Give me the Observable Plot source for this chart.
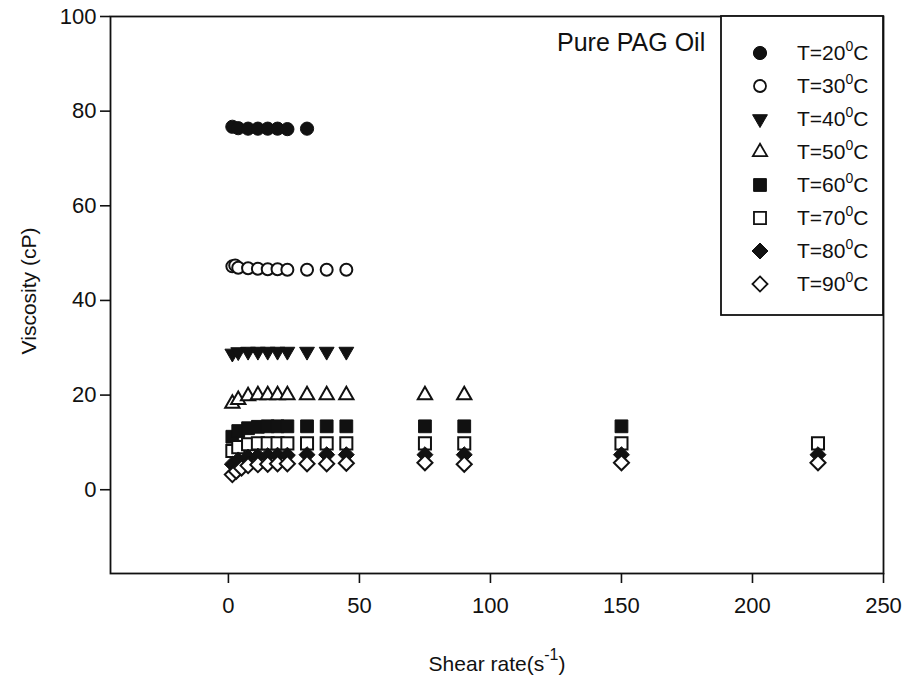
<!DOCTYPE html>
<html>
<head>
<meta charset="utf-8">
<script src="https://cdn.jsdelivr.net/npm/d3@7"></script>
<script src="https://cdn.jsdelivr.net/npm/@observablehq/plot@0.6"></script>
<style>
  body { margin: 0; background: #fff; }
  #chart { position: relative; width: 903px; height: 679px; }
  #chart svg { position: absolute; left: 0; top: 0; }
</style>
</head>
<body>
<div id="chart"></div>
<script>
// Viscosity of pure PAG oil vs. shear rate, one series per temperature
const temperatures = [20, 30, 40, 50, 60, 70, 80, 90];

const shear20 = [1.5, 3.75, 7.5, 11.25, 15, 18.75, 22.5, 30];
const visc20  = [76.7, 76.4, 76.3, 76.3, 76.3, 76.3, 76.2, 76.3];

const shear30 = [1.5, 2.6, 3.75, 7.5, 11.25, 15, 18.75, 22.5, 30, 37.5, 45];
const visc30  = [47.2, 47.4, 46.9, 46.8, 46.7, 46.6, 46.6, 46.5, 46.5, 46.5, 46.5];

const shear40 = [1.5, 3.75, 7.5, 11.25, 15, 18.75, 22.5, 30, 37.5, 45];
const visc40  = [28.8, 29.1, 29.2, 29.2, 29.2, 29.2, 29.2, 29.2, 29.2, 29.2];

const shear50 = [1.5, 3.75, 7.5, 11.25, 15, 18.75, 22.5, 30, 37.5, 45, 75, 90];
const visc50  = [18.2, 19.0, 19.8, 20.0, 20.0, 20.0, 20.0, 20.0, 20.0, 20.0, 20.0, 20.0];

const shear60 = [1.5, 3.75, 7.5, 11.25, 15, 18.75, 22.5, 30, 37.5, 45, 75, 90, 150];
const visc60  = [11.2, 12.4, 13.0, 13.3, 13.4, 13.4, 13.4, 13.4, 13.4, 13.4, 13.4, 13.4, 13.4];

const shear70 = [1.5, 3.75, 7.5, 11.25, 15, 18.75, 22.5, 30, 37.5, 45, 75, 90, 150, 225];
const visc70  = [8.2, 9.0, 9.6, 9.8, 9.8, 9.8, 9.8, 9.8, 9.8, 9.8, 9.8, 9.8, 9.8, 9.8];

const shear80 = [1.5, 3.75, 7.5, 11.25, 15, 18.75, 22.5, 30, 37.5, 45, 75, 90, 150, 225];
const visc80  = [5.4, 6.3, 6.9, 7.1, 7.2, 7.3, 7.3, 7.4, 7.4, 7.4, 7.4, 7.4, 7.4, 7.4];

const shear90 = [1.5, 3.0, 5.0, 7.5, 11.25, 15, 18.75, 22.5, 30, 37.5, 45, 75, 90, 150, 225];
const visc90  = [3.2, 3.9, 4.6, 5.1, 5.3, 5.4, 5.5, 5.5, 5.5, 5.5, 5.6, 5.7, 5.4, 5.7, 5.7];

const xTicks = [0, 50, 100, 150, 200, 250];
const yTicks = [0, 20, 40, 60, 80, 100];
const legendLabels = ["T=20", "T=30", "T=40", "T=50", "T=60", "T=70", "T=80", "T=90"];

const shearBySeries = [shear20, shear30, shear40, shear50, shear60, shear70, shear80, shear90];
const viscBySeries  = [visc20, visc30, visc40, visc50, visc60, visc70, visc80, visc90];

// Long table: one row per measurement
const rows = temperatures.flatMap((T, i) =>
  shearBySeries[i].map((s, j) => ({T, shear: s, visc: viscBySeries[i][j]}))
);

// Marker look per temperature (SigmaPlot-style symbol cycle)
const markerStyle = [
  {symbol: d3.symbolCircle,   filled: true,  r: 6.6, rotate: 0},
  {symbol: d3.symbolCircle,   filled: false, r: 6.0, rotate: 0},
  {symbol: d3.symbolTriangle, filled: true,  r: 5.5, rotate: 180},
  {symbol: d3.symbolTriangle, filled: false, r: 5.3, rotate: 0},
  {symbol: d3.symbolSquare,   filled: true,  r: 7.2, rotate: 0},
  {symbol: d3.symbolSquare,   filled: false, r: 6.8, rotate: 0},
  {symbol: d3.symbolDiamond2, filled: true,  r: 7.2, rotate: 0},
  {symbol: d3.symbolDiamond2, filled: false, r: 6.8, rotate: 0}
];

const font = "'Liberation Sans', Arial, sans-serif";
const ink = "#111";

const dotMarks = temperatures.map((T, i) => {
  const m = markerStyle[i];
  return Plot.dot(rows.filter(d => d.T === T), {
    x: "shear",
    y: "visc",
    symbol: m.symbol,
    r: m.r,
    rotate: m.rotate,
    fill: m.filled ? ink : "#fff",
    stroke: ink,
    strokeWidth: m.filled ? 1 : 2
  });
});

const chart = Plot.plot({
  width: 903,
  height: 679,
  marginLeft: 110,
  marginRight: 20,
  marginTop: 16,
  marginBottom: 106,
  style: {fontFamily: font, fontSize: "22px", color: ink, background: "#fff"},
  x: {domain: [-45, 250], label: null},
  y: {domain: [-17.7, 100], label: null},
  marks: [
    Plot.axisX({ticks: xTicks, tickSize: 10, tickPadding: 14, strokeWidth: 1.6, label: null}),
    Plot.axisY({ticks: yTicks, tickSize: 10, tickPadding: 4, strokeWidth: 1.6, label: null}),
    ...dotMarks,
    Plot.frame({stroke: ink, strokeWidth: 1.8})
  ]
});

const host = document.getElementById("chart");
host.appendChild(chart);

// Overlay: plot title, axis titles with superscripts, and the legend box
const ov = d3.select(host).append("svg")
  .attr("width", 903).attr("height", 679)
  .style("pointer-events", "none")
  .attr("font-family", font)
  .attr("fill", ink);

ov.append("text")
  .attr("x", 557).attr("y", 51)
  .attr("font-size", 25)
  .text("Pure PAG Oil");

const xt = ov.append("text")
  .attr("x", 497).attr("y", 671)
  .attr("text-anchor", "middle")
  .attr("font-size", 21);
xt.append("tspan").text("Shear rate(s");
xt.append("tspan").attr("dy", -11).attr("font-size", 16).text("-1");
xt.append("tspan").attr("dy", 11).text(")");

ov.append("text")
  .attr("transform", "translate(29,291) rotate(-90)")
  .attr("text-anchor", "middle")
  .attr("dy", "0.35em")
  .attr("font-size", 21)
  .text("Viscosity (cP)");

const lg = ov.append("g");
lg.append("rect")
  .attr("x", 721).attr("y", 16)
  .attr("width", 162).attr("height", 299)
  .attr("fill", "#fff")
  .attr("stroke", ink)
  .attr("stroke-width", 1.8);

legendLabels.forEach((label, i) => {
  const m = markerStyle[i];
  const cy = 53 + i * 33;
  lg.append("path")
    .attr("transform", `translate(760,${cy}) rotate(${m.rotate})`)
    .attr("d", d3.symbol(m.symbol, Math.PI * m.r * m.r)())
    .attr("fill", m.filled ? ink : "#fff")
    .attr("stroke", ink)
    .attr("stroke-width", m.filled ? 1 : 1.8);
  const t = lg.append("text")
    .attr("x", 797).attr("y", cy + 7)
    .attr("font-size", 21);
  t.append("tspan").text(label);
  t.append("tspan").attr("dy", -9).attr("font-size", 14).text("0");
  t.append("tspan").attr("dy", 9).text("C");
});
</script>
</body>
</html>
